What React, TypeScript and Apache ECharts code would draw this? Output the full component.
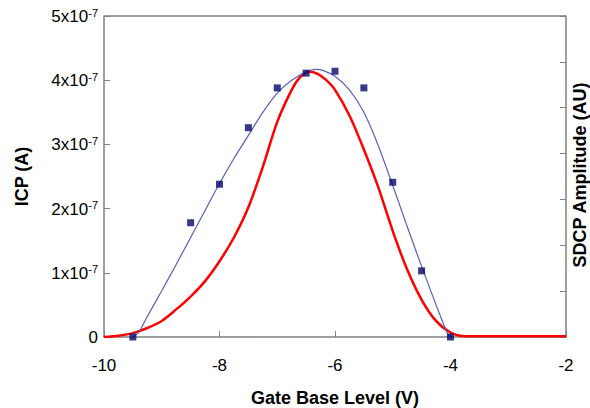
import React, { useEffect, useRef } from "react";
import * as echarts from "echarts";

// ICP measured points (units of 1e-7 A)
const icpX = [-9.5, -8.5, -8.0, -7.5, -7.0, -6.5, -6.0, -5.5, -5.0, -4.5, -4.0];
const icpY = [0, 1.78, 2.38, 3.26, 3.88, 4.11, 4.14, 3.88, 2.41, 1.03, 0];

// Fit curve (blue) (units of 1e-7 A)
const fitX = [-9.5, -9.4, -9.25, -9.0, -8.75, -8.5, -8.25, -8.0, -7.75, -7.5, -7.25, -7.0, -6.75, -6.5, -6.35, -6.2, -6.0, -5.75, -5.5, -5.25, -5.0, -4.75, -4.5, -4.25, -4.05, -4.0];
const fitY = [0, 0.07, 0.32, 0.72, 1.13, 1.55, 1.97, 2.39, 2.78, 3.14, 3.5, 3.8, 4.0, 4.13, 4.17, 4.15, 4.06, 3.85, 3.5, 2.98, 2.36, 1.72, 1.1, 0.5, 0.05, 0];

// SDCP amplitude curve (red), plotted on the same scale
const sdcpX = [-10, -9.75, -9.5, -9.25, -9.0, -8.75, -8.5, -8.25, -8.0, -7.75, -7.5, -7.25, -7.0, -6.75, -6.6, -6.45, -6.3, -6.15, -6.0, -5.75, -5.5, -5.25, -5.0, -4.75, -4.5, -4.25, -4.0, -3.75, -3.5, -2.0];
const sdcpY = [0, 0.02, 0.06, 0.14, 0.25, 0.43, 0.63, 0.87, 1.18, 1.55, 2.02, 2.65, 3.35, 3.85, 4.05, 4.13, 4.1, 4.0, 3.85, 3.45, 2.92, 2.33, 1.65, 1.05, 0.58, 0.25, 0.07, 0.01, 0.01, 0.01];

const xTicks = { min: -10, max: -2, interval: 2 };
const yTicks = { min: 0, max: 5, interval: 1 };
const rightTicks = { min: 0, max: 7, interval: 1 };

export default function App() {
  const ref = useRef<HTMLDivElement>(null);
  useEffect(() => {
    if (!ref.current) return;
    const chart = echarts.init(ref.current, null, { renderer: "svg" });
    const axisColor = "#7f7f7f";
    const font = "Liberation Sans, Arial, sans-serif";
    chart.setOption({
      animation: false,
      backgroundColor: "#ffffff",
      textStyle: { fontFamily: font },
      grid: { left: 104, right: 24, top: 16, bottom: 71, containLabel: false, outerBoundsMode: "none" },
      xAxis: {
        type: "value",
        min: xTicks.min,
        max: xTicks.max,
        interval: xTicks.interval,
        name: "Gate Base Level (V)",
        nameLocation: "middle",
        nameGap: 52,
        nameTextStyle: { fontSize: 18, fontWeight: "bold", color: "#000", fontFamily: font },
        axisLine: { lineStyle: { color: axisColor, width: 1.5 } },
        axisTick: { inside: true, length: 6, lineStyle: { color: axisColor } },
        axisLabel: { fontSize: 17, color: "#000", margin: 20, fontFamily: font },
        splitLine: { show: false },
      },
      yAxis: [
        {
          type: "value",
          min: yTicks.min,
          max: yTicks.max,
          interval: yTicks.interval,
          name: "ICP (A)",
          nameLocation: "middle",
          nameRotate: 90,
          nameGap: 73,
          nameTextStyle: { fontSize: 18, fontWeight: "bold", color: "#000", fontFamily: font },
          axisLine: { show: true, lineStyle: { color: axisColor, width: 1.5 } },
          axisTick: { show: true, inside: true, length: 6, lineStyle: { color: axisColor } },
          axisLabel: {
            margin: 6,
            color: "#000",
            formatter: (v: number) => (v === 0 ? "{a|0}" : `{a|${v}x10}{s|-7}`),
            rich: {
              a: { fontSize: 17, color: "#000", fontFamily: font, verticalAlign: "bottom" },
              s: { fontSize: 11, color: "#000", fontFamily: font, verticalAlign: "top", padding: [0, 0, 7, 0] },
            },
          },
          splitLine: { show: false },
        },
        {
          type: "value",
          min: rightTicks.min,
          max: rightTicks.max,
          interval: rightTicks.interval,
          position: "right",
          axisLine: { show: true, lineStyle: { color: axisColor, width: 1.5 } },
          axisTick: { show: true, inside: true, length: 6, lineStyle: { color: axisColor } },
          axisLabel: { show: false },
          splitLine: { show: false },
        },
      ],
      graphic: [
        {
          type: "line",
          shape: { x1: 104, y1: 16, x2: 566, y2: 16 },
          style: { stroke: axisColor, lineWidth: 1.5 },
          z: 10,
        },
        {
          type: "text",
          x: 580,
          y: 175,
          rotation: Math.PI / 2,
          style: {
            text: "SDCP Amplitude (AU)",
            fontSize: 18,
            fontWeight: "bold",
            fontFamily: font,
            fill: "#000",
            align: "center",
            verticalAlign: "middle",
          },
          z: 10,
        },
      ],
      series: [
        {
          type: "line",
          data: sdcpX.map((x, i) => [x, sdcpY[i]]),
          smooth: 0.3,
          symbol: "none",
          lineStyle: { color: "#ff0000", width: 2.5 },
          z: 3,
        },
        {
          type: "line",
          data: fitX.map((x, i) => [x, fitY[i]]),
          smooth: 0.3,
          symbol: "none",
          lineStyle: { color: "#5a5fb8", width: 1.2 },
          z: 4,
        },
        {
          type: "scatter",
          data: icpX.map((x, i) => [x, icpY[i]]),
          symbol: "rect",
          symbolSize: 7,
          itemStyle: { color: "#06066a" },
          z: 5,
        },
      ],
    });
    return () => chart.dispose();
  }, []);
  return <div ref={ref} style={{ width: 590, height: 408, position: "absolute", left: 0, top: 0 }} />;
}
